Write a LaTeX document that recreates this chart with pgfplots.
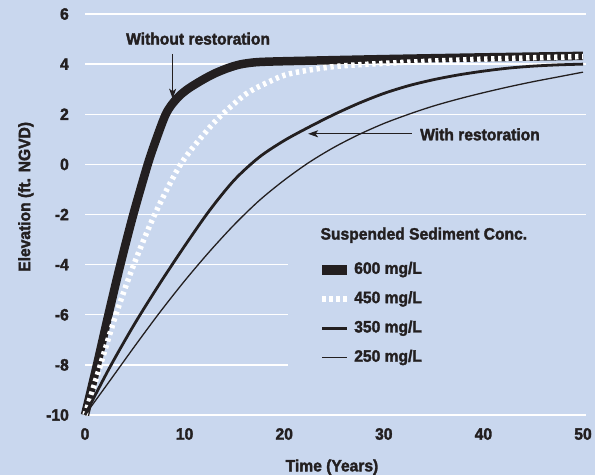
\documentclass[border=0pt]{standalone}
\usepackage{pgfplots}
\pgfplotsset{compat=1.18}
\usepackage{fontspec}
\setmainfont[FakeStretch=0.95, BoldFeatures={FakeBold=2}]{Liberation Sans}
\usetikzlibrary{arrows.meta}
\definecolor{bg}{RGB}{201,215,238}
\definecolor{ink}{RGB}{35,31,32}
\newcommand\chartfont{\fontsize{16.5}{19}\selectfont\bfseries}

\begin{document}
\begin{tikzpicture}[font=\chartfont, text=ink]
\path[fill=bg, use as bounding box] (0,0) rectangle (595bp,475bp);
\begin{axis}[
  at={(85bp,60bp)}, anchor=south west,
  scale only axis, width=501bp, height=401bp,
  xmin=0, xmax=50.3, ymin=-10, ymax=6,
  clip=false,
  axis line style={draw=none},
  major tick length=0pt,
  /pgf/number format/assume math mode=true,
  xtick={0,10,20,30,40,50}, xticklabels={0,10,20,30,40,50},
  ytick={-10,-8,-6,-4,-2,0,2,4,6}, yticklabels={-10,-8,-6,-4,-2,0,2,4,6},
  ymajorgrids, major grid style={white, line width=1.3bp},
  xticklabel style={anchor=north, inner sep=0pt, yshift=-13bp, font=\chartfont, text=ink},
  yticklabel style={anchor=east, inner sep=0pt, xshift=-16bp, font=\chartfont, text=ink},
  xlabel={Time (Years)}, ylabel={Elevation (ft. NGVD)},
  xlabel style={at={(axis description cs:0.493,-0.13)}, anchor=center, font=\chartfont, text=ink},
  ylabel style={at={(axis description cs:-0.118,0.544)}, anchor=center, font=\chartfont, text=ink},
  legend style={at={(axis cs:23.3,-3.88)}, anchor=north west, fill=none, draw=none,
    inner sep=0pt, font=\chartfont, text=ink, row sep=13.8bp,
    nodes={inner sep=0pt, text height=12bp, text depth=3.5bp},
    /tikz/every odd column/.append style={column sep=2bp}},
  legend cell align=left,
  legend image code/.code={\draw[#1] (0bp,0bp) -- (25bp,0bp);},
]
\fill[bg] (axis cs:20.4,-2.2) rectangle (axis cs:50.6,-8.15);

\addplot[ink, line width=8.5bp, smooth, line join=round, legend image post style={line width=10bp}] coordinates {
(0,-10) (1.2,-8) (2.35,-6) (3.55,-4) (4.85,-2) (6.3,0) (7.15,1.0) (8.05,1.95) (8.7,2.38) (9.5,2.74) (10.3,3.0) (11.2,3.23) (12.2,3.46) (13.2,3.66) (14.4,3.85) (15.6,3.99) (17,4.07) (18.5,4.1) (21.6,4.13) (30,4.2) (40,4.27) (50,4.33)
};
\addlegendentry{600 mg/L}
\addplot[white, line width=5.5bp, smooth, dash pattern=on 3.3bp off 3.7bp, legend image post style={dash pattern=on 4bp off 3bp, line width=6bp}] coordinates {
(0,-10) (1.55,-8) (3.1,-6) (4.9,-4) (7.0,-2) (9.6,0) (12.4,1.42) (13.8,2.0) (16.2,2.82) (18.5,3.3) (20.6,3.62) (25,3.9) (31,4.05) (40,4.2) (50,4.3)
};
\addlegendentry{450 mg/L}
\addplot[ink, line width=2.8bp, smooth] coordinates {
(0,-10) (2.5,-8.09) (5,-6.35) (7.5,-4.76) (10,-3.26) (12.5,-1.84) (15,-0.62) (17.5,0.29) (20,0.95) (22.5,1.49) (25,1.99) (27.5,2.44) (30,2.83) (32.5,3.14) (35,3.38) (37.5,3.57) (40,3.72) (42.5,3.84) (45,3.92) (47.5,3.97) (50,4.0)
};
\addlegendentry{350 mg/L}
\addplot[ink, line width=1.3bp, smooth] coordinates {
(0,-10) (2.5,-8.63) (5,-7.25) (7.5,-5.91) (10,-4.65) (12.5,-3.48) (15,-2.4) (17.5,-1.44) (20,-0.63) (22.5,0.08) (25,0.68) (27.5,1.19) (30,1.63) (32.5,2.0) (35,2.33) (37.5,2.61) (40,2.86) (42.5,3.09) (45,3.3) (47.5,3.49) (50,3.68)
};
\addlegendentry{250 mg/L}

\node[anchor=base] at (axis cs:11.35,4.78) {Without restoration};
\draw[ink, line width=1bp, -{Stealth[length=10bp,width=7bp,inset=2.5bp]}] (axis cs:8.8,4.41) -- (axis cs:8.8,2.62);
\node[anchor=base west] at (axis cs:33.3,0.96) {With restoration};
\draw[ink, line width=1bp, -{Stealth[length=10bp,width=7bp,inset=2.5bp]}] (axis cs:32.8,1.22) -- (axis cs:22.4,1.22);
\node[anchor=base west] at (axis cs:23.3,-3.0) {Suspended Sediment Conc.};
\end{axis}
\end{tikzpicture}
\end{document}
